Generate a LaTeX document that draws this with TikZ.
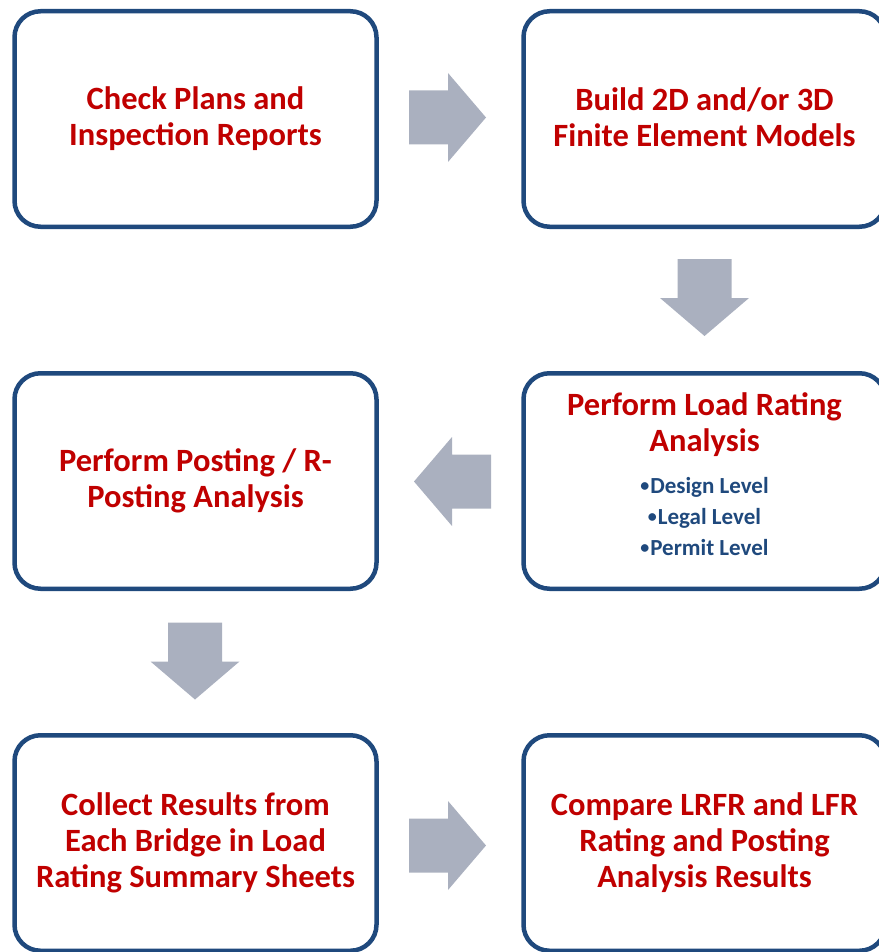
\documentclass[tikz,border=0pt]{standalone}
\usepackage{fontspec}
\setmainfont{Carlito}
\definecolor{boxblue}{RGB}{31,73,125}
\definecolor{titlered}{RGB}{192,0,0}
\definecolor{arrowgray}{RGB}{170,176,191}
\newcommand\blockarrow[2]{%
  \fill[arrowgray, shift={(#1)}, rotate=#2]
    (-38.5,-27) -- (0.5,-27) -- (0.5,-44.5) -- (38.5,0) --
    (0.5,44.5) -- (0.5,27) -- (-38.5,27) -- cycle;}
\newcommand\smallbullet{{\fontsize{18}{18}\selectfont\raisebox{0.12em}{•}}\kern1pt}
\begin{document}
\begin{tikzpicture}[x=1pt,y=-1pt,
  stepbox/.style={draw=boxblue, line width=4.5pt, rounded corners=26pt,
    minimum width=362pt, minimum height=215.5pt, inner sep=0pt, fill=white,
    align=center, text=titlered, font=\bfseries\fontsize{32.5}{36}\selectfont},
  titletext/.style={align=center, text=titlered, inner sep=0pt,
    font=\bfseries\fontsize{32.5}{36}\selectfont},
  bullettext/.style={align=center, text=boxblue, inner sep=0pt,
    font=\bfseries\fontsize{23}{31}\selectfont}]
\useasboundingbox (0,0) rectangle (878,952);
\node[stepbox] (check) at (195.5,119) {Check Plans and\\Inspection Reports};
\node[stepbox] (build) at (704.5,119) {};
\node[titletext] (buildtext) at (704.5,117) {Build 2D and/or 3D\\Finite Element Models};
\node[stepbox] (load) at (704.5,481) {};
\node[titletext] (loadtitle) at (704.5,424.5) {Perform Load Rating\\Analysis};
\node[bullettext] (loadlist) at (704.5,517) {\smallbullet Design Level\\\smallbullet Legal Level\\\smallbullet Permit Level};
\node[stepbox] (posting) at (195.5,481) {Perform Posting / R-\\Posting Analysis};
\node[stepbox] (collect) at (195.5,843) {Collect Results from\\Each Bridge in Load\\Rating Summary Sheets};
\node[stepbox] (compare) at (704.5,843) {Compare LRFR and LFR\\Rating and Posting\\Analysis Results};
\coordinate (a1) at (447.5,117.5);
\coordinate (a2) at (704.5,297.5);
\coordinate (a3) at (452.5,481.5);
\coordinate (a4) at (195,661);
\coordinate (a5) at (447.5,845.5);
\blockarrow{a1}{0}
\blockarrow{a2}{-90}
\blockarrow{a3}{180}
\blockarrow{a4}{-90}
\blockarrow{a5}{0}
\end{tikzpicture}
\end{document}
